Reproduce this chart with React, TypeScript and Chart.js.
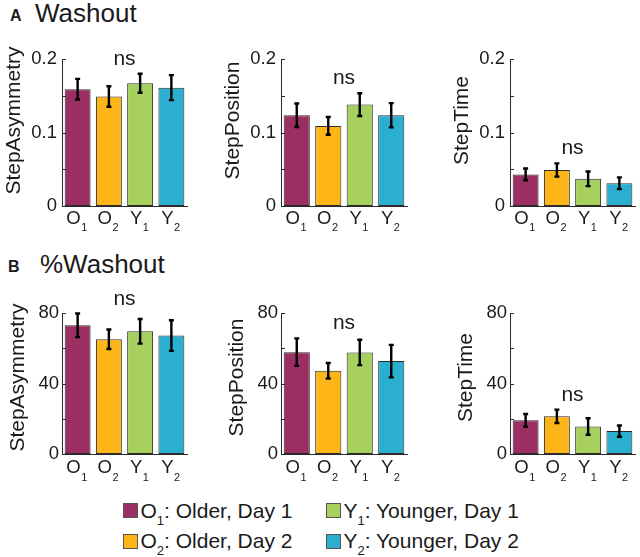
import React, { useEffect, useRef } from 'react';
import { Chart, registerables } from 'chart.js';

Chart.register(...registerables);

// ---------- data ----------
const groupLetters = ['O', 'O', 'Y', 'Y'];
const groupSubs = ['1', '2', '1', '2'];
const groupLabels = ['O1', 'O2', 'Y1', 'Y2'];
const groupColors = ['#9B2E63', '#FDB517', '#A7D05F', '#2BAFD1'];
const legendNames = ['Older, Day 1', 'Older, Day 2', 'Younger, Day 1', 'Younger, Day 2'];

const measureNames = ['StepAsymmetry', 'StepPosition', 'StepTime'];

const washoutAsymMean = [0.159, 0.149, 0.167, 0.161];
const washoutAsymErr = [0.014, 0.014, 0.013, 0.017];
const washoutPosMean = [0.1235, 0.109, 0.138, 0.1235];
const washoutPosErr = [0.016, 0.012, 0.0155, 0.0165];
const washoutTimeMean = [0.043, 0.049, 0.037, 0.031];
const washoutTimeErr = [0.008, 0.009, 0.01, 0.008];

const pctAsymMean = [73.0, 65.1, 69.6, 67.2];
const pctAsymErr = [6.7, 5.5, 7.0, 8.7];
const pctPosMean = [57.8, 47.2, 57.6, 52.7];
const pctPosErr = [7.8, 4.4, 7.2, 9.2];
const pctTimeMean = [19.1, 21.4, 15.6, 13.0];
const pctTimeErr = [3.6, 3.8, 4.7, 3.2];

const washoutMax = 0.2;
const washoutStep = 0.05;
const washoutTickLabels = ['0', '', '0.1', '', '0.2'];
const pctMax = 80;
const pctStep = 20;
const pctTickLabels = ['0', '', '40', '', '80'];

const sigLabel = 'ns';

// ---------- styles ----------
const FONT = '"Liberation Sans", Arial, Helvetica, sans-serif';
const TEXT = '#1a1a1a';
const AXIS = '#2a2a2a';

type RowStyle = {
  top: number; height: number; padTop: number; xh: number;
  titleOffset: number; titleShift: number; xLabelGap: number; tickPad: number;
};
const rowA: RowStyle = { top: 30, height: 210, padTop: 29, xh: 34, titleOffset: 42, titleShift: -12, xLabelGap: 17.5, tickPad: 5 };
const rowB: RowStyle = { top: 285, height: 205, padTop: 28, xh: 36, titleOffset: 38, titleShift: -6, xLabelGap: 19, tickPad: 3 };

type ColStyle = { left: number; width: number; yw: number; padRight: number };
const cols: ColStyle[] = [
  { left: 0, width: 200, yw: 62, padRight: 13 },
  { left: 205, width: 215, yw: 76, padRight: 13 },
  { left: 430, width: 210, yw: 80, padRight: 5 },
];

const panelPlugin = {
  id: 'panelDecor',
  afterDatasetsDraw(chart: any) {
    const o = chart.options.plugins.panelDecor;
    const ctx = chart.ctx;
    const meta = chart.getDatasetMeta(0);
    const ys = chart.scales.y;
    const ds = chart.data.datasets[0];
    ctx.save();
    ctx.strokeStyle = '#000';
    ctx.lineWidth = 2.4;
    meta.data.forEach((el: any, i: number) => {
      const v = ds.data[i];
      const e = o.errors[i];
      const yt = ys.getPixelForValue(v + e);
      const yb = ys.getPixelForValue(v - e);
      ctx.beginPath();
      ctx.moveTo(el.x, yt);
      ctx.lineTo(el.x, yb);
      ctx.moveTo(el.x - 2.5, yt);
      ctx.lineTo(el.x + 2.5, yt);
      ctx.moveTo(el.x - 2.5, yb);
      ctx.lineTo(el.x + 2.5, yb);
      ctx.stroke();
    });
    ctx.restore();
  },
  afterDraw(chart: any) {
    const o = chart.options.plugins.panelDecor;
    const ctx = chart.ctx;
    const ca = chart.chartArea;
    const ys = chart.scales.y;
    const xs = chart.scales.x;
    ctx.save();
    // inward y ticks
    ctx.strokeStyle = AXIS;
    ctx.lineWidth = 1;
    ys.ticks.forEach((t: any) => {
      if (t.value === 0) return;
      const y = Math.round(ys.getPixelForValue(t.value)) + 0.5;
      ctx.beginPath();
      ctx.moveTo(ca.left, y);
      ctx.lineTo(ca.left + 4, y);
      ctx.stroke();
    });
    // y title
    ctx.fillStyle = TEXT;
    ctx.font = `21px ${FONT}`;
    ctx.textAlign = 'center';
    ctx.textBaseline = 'alphabetic';
    ctx.save();
    ctx.translate(ca.left - o.titleOffset, (ca.top + ca.bottom) / 2 + o.titleShift);
    ctx.rotate(-Math.PI / 2);
    ctx.fillText(o.title, 0, 0);
    ctx.restore();
    // x labels with subscripts
    const data = chart.data.datasets[0].data;
    groupLetters.forEach((letter, i) => {
      const x = xs.getPixelForValue(i);
      ctx.font = `18.5px ${FONT}`;
      const wm = ctx.measureText(letter).width;
      ctx.font = `11px ${FONT}`;
      const wsub = ctx.measureText(groupSubs[i]).width;
      const start = x - (wm + wsub) / 2 - 1;
      const base = ca.bottom + o.xLabelGap;
      ctx.textAlign = 'left';
      ctx.font = `18.5px ${FONT}`;
      ctx.fillText(letter, start, base);
      ctx.font = `11px ${FONT}`;
      ctx.fillText(groupSubs[i], start + wm + 0.5, base + 7.5);
    });
    // significance label
    let top = 0;
    data.forEach((v: number, i: number) => { top = Math.max(top, v + o.errors[i]); });
    ctx.font = `21px ${FONT}`;
    ctx.textAlign = 'center';
    ctx.fillText(sigLabel, (ca.left + ca.right) / 2, ys.getPixelForValue(top) - 9);
    ctx.restore();
  },
};

type PanelProps = {
  row: RowStyle; col: ColStyle; title: string;
  mean: number[]; err: number[]; max: number; step: number; tickLabels: string[];
};

function Panel({ row, col, title, mean, err, max, step, tickLabels }: PanelProps) {
  const ref = useRef<HTMLCanvasElement | null>(null);
  useEffect(() => {
    if (!ref.current) return;
    const chart = new Chart(ref.current, {
      type: 'bar',
      data: {
        labels: groupLabels,
        datasets: [{
          data: mean,
          backgroundColor: groupColors,
          borderColor: '#2b2b2b',
          borderWidth: 1,
          borderSkipped: false,
          barPercentage: 0.83,
          categoryPercentage: 1,
        }],
      },
      options: {
        animation: false,
        responsive: false,
        maintainAspectRatio: false,
        layout: { padding: { left: 0, right: col.padRight, top: row.padTop, bottom: 0 } },
        plugins: {
          legend: { display: false },
          tooltip: { enabled: false },
          panelDecor: {
            errors: err, title, titleOffset: row.titleOffset, titleShift: row.titleShift,
            xLabelGap: row.xLabelGap,
          },
        } as any,
        scales: {
          x: {
            offset: true,
            grid: { display: false, drawTicks: false },
            border: { display: true, color: AXIS, width: 1 },
            ticks: { display: false },
            afterFit: (s: any) => { s.height = row.xh; },
          },
          y: {
            min: 0,
            max,
            grid: { display: false, drawTicks: false },
            border: { display: true, color: AXIS, width: 1 },
            ticks: {
              stepSize: step,
              autoSkip: false,
              padding: row.tickPad,
              color: TEXT,
              font: { family: FONT, size: 18.5 },
              callback: (_v: any, i: number) => tickLabels[i] ?? '',
            },
            afterFit: (s: any) => { s.width = col.yw; },
          },
        },
      } as any,
      plugins: [panelPlugin],
    });
    return () => chart.destroy();
  }, []);
  return (
    <canvas
      ref={ref}
      width={col.width}
      height={row.height}
      style={{ position: 'absolute', left: col.left, top: row.top, width: col.width, height: row.height }}
    />
  );
}

const topFor = (baseline: number, fs: number) => baseline - 0.8465 * fs;

function Text({ x, baseline, size, bold, children }: any) {
  return (
    <div
      style={{
        position: 'absolute', left: x, top: topFor(baseline, size), fontSize: size,
        lineHeight: `${size}px`, fontWeight: bold ? 'bold' : 'normal', whiteSpace: 'nowrap',
        color: TEXT, fontFamily: FONT,
      }}
    >
      {children}
    </div>
  );
}

function LegendItem({ i, x, baseline }: { i: number; x: number; baseline: number }) {
  return (
    <>
      <div
        style={{
          position: 'absolute', left: x, top: baseline - 14.5, width: 13, height: 13,
          background: groupColors[i], border: '1px solid #555',
        }}
      />
      <Text x={x + 17.5} baseline={baseline} size={21}>
        {groupLetters[i]}
        <span style={{ fontSize: 13, position: 'relative', top: 7 }}>{groupSubs[i]}</span>
        {': ' + legendNames[i]}
      </Text>
    </>
  );
}

export default function App() {
  return (
    <div style={{ position: 'absolute', left: 0, top: 0, width: 640, height: 557, background: '#fff', overflow: 'hidden', fontFamily: FONT }}>
      <Text x={10} baseline={22} size={16} bold>A</Text>
      <Text x={35} baseline={22} size={26}>Washout</Text>
      <Text x={8} baseline={273} size={16} bold>B</Text>
      <Text x={40} baseline={273} size={26}>%Washout</Text>

      <Panel row={rowA} col={cols[0]} title={measureNames[0]} mean={washoutAsymMean} err={washoutAsymErr} max={washoutMax} step={washoutStep} tickLabels={washoutTickLabels} />
      <Panel row={rowA} col={cols[1]} title={measureNames[1]} mean={washoutPosMean} err={washoutPosErr} max={washoutMax} step={washoutStep} tickLabels={washoutTickLabels} />
      <Panel row={rowA} col={cols[2]} title={measureNames[2]} mean={washoutTimeMean} err={washoutTimeErr} max={washoutMax} step={washoutStep} tickLabels={washoutTickLabels} />

      <Panel row={rowB} col={cols[0]} title={measureNames[0]} mean={pctAsymMean} err={pctAsymErr} max={pctMax} step={pctStep} tickLabels={pctTickLabels} />
      <Panel row={rowB} col={cols[1]} title={measureNames[1]} mean={pctPosMean} err={pctPosErr} max={pctMax} step={pctStep} tickLabels={pctTickLabels} />
      <Panel row={rowB} col={cols[2]} title={measureNames[2]} mean={pctTimeMean} err={pctTimeErr} max={pctMax} step={pctStep} tickLabels={pctTickLabels} />

      <LegendItem i={0} x={123} baseline={517.5} />
      <LegendItem i={1} x={123} baseline={548} />
      <LegendItem i={2} x={326} baseline={517.5} />
      <LegendItem i={3} x={326} baseline={548} />
    </div>
  );
}
